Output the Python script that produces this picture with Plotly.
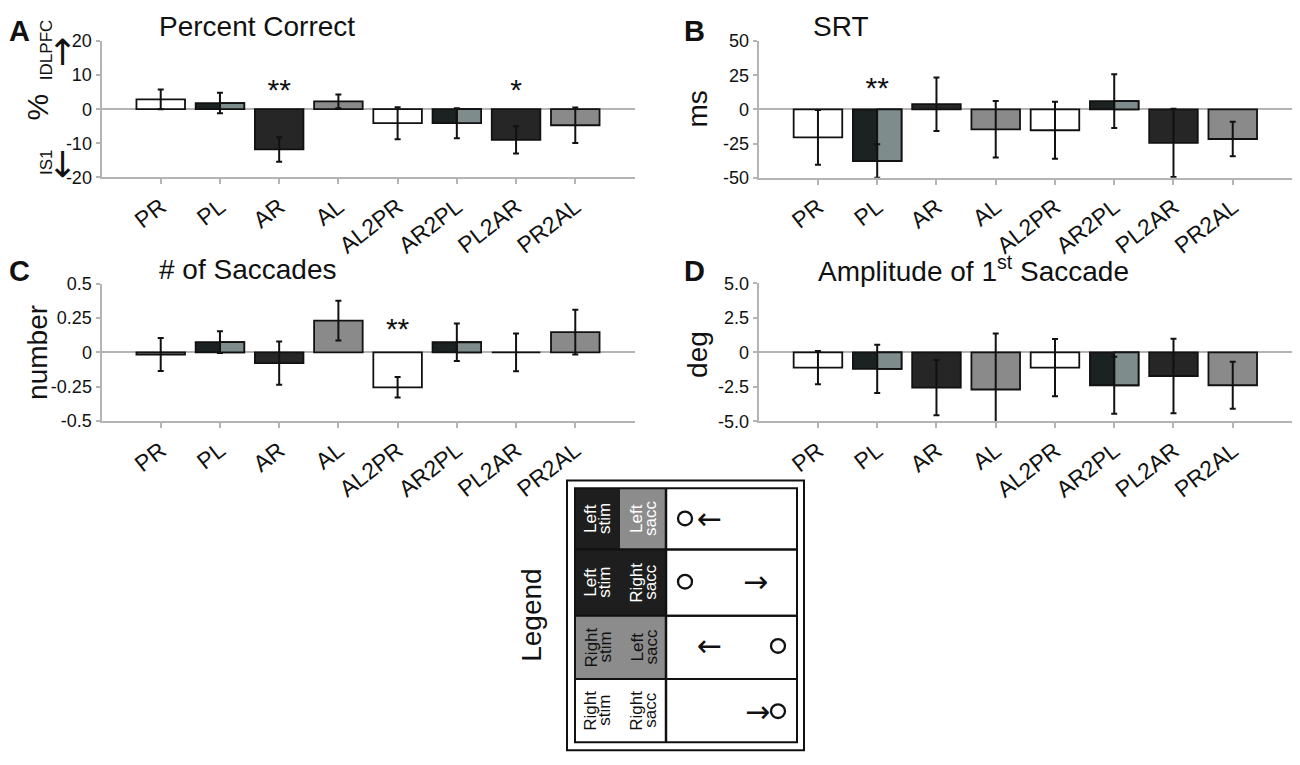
import plotly.graph_objects as go

# The page body adds an 8 px margin, so the figure is sized and positioned to fill the window.
OFF = 8
W, H = 1300 - OFF, 765 - OFF
FONT = "Liberation Sans, Arial, sans-serif"
GLYPH_FONT = "DejaVu Sans, sans-serif"

# ---------------- data ----------------
categories = ["PR", "PL", "AR", "AL", "AL2PR", "AR2PL", "PL2AR", "PR2AL"]
fill_colors = ["#ffffff", "#1c2121", "#262626", "#8a8a8a",
               "#ffffff", "#1c2121", "#262626", "#8a8a8a"]
split_categories = ["PL", "AR2PL"]
split_color = "#7e8c8c"

pc_vals = [2.9, 1.8, -11.8, 2.3, -4.1, -4.1, -9.0, -4.7]
pc_err = [2.9, 3.0, 3.6, 2.0, 4.7, 4.4, 4.0, 5.2]
pc_sig = ["", "", "**", "", "", "", "*", ""]

srt_vals = [-20.5, -37.8, 3.8, -14.6, -15.3, 6.0, -24.6, -21.7]
srt_err = [20.0, 12.3, 19.6, 20.7, 20.9, 19.7, 25.0, 12.7]
srt_sig = ["", "**", "", "", "", "", "", ""]

nsac_vals = [-0.015, 0.075, -0.078, 0.231, -0.254, 0.074, 0.0, 0.148]
nsac_err = [0.12, 0.08, 0.158, 0.145, 0.075, 0.136, 0.137, 0.163]
nsac_sig = ["", "", "", "", "**", "", "", ""]

amp_vals = [-1.1, -1.2, -2.55, -2.69, -1.1, -2.38, -1.71, -2.38]
amp_err = [1.2, 1.75, 2.0, 4.07, 2.07, 2.07, 2.7, 1.7]
amp_sig = ["", "", "", "", "", "", "", ""]

pc_ticks = [20, 10, 0, -10, -20]
pc_ticktext = ["20", "10", "0", "-10", "-20"]
srt_ticks = [50, 25, 0, -25, -50]
srt_ticktext = ["50", "25", "0", "-25", "-50"]
nsac_ticks = [0.5, 0.25, 0, -0.25, -0.5]
nsac_ticktext = ["0.5", "0.25", "0", "-0.25", "-0.5"]
amp_ticks = [5, 2.5, 0, -2.5, -5]
amp_ticktext = ["5.0", "2.5", "0", "-2.5", "-5.0"]

legend_rows = [
    ("Left", "stim", "Left", "sacc"),
    ("Left", "stim", "Right", "sacc"),
    ("Right", "stim", "Left", "sacc"),
    ("Right", "stim", "Right", "sacc"),
]

# ---------------- layout helpers (screen pixels -> paper) ----------------
def px(x):
    return (x - OFF) / W

def py(y):
    return 1 - (y - OFF) / H

panels = [
    dict(ax="", vals=pc_vals, err=pc_err, sig=pc_sig, sig_level=4.8, rng=[-20, 20],
         ticks=pc_ticks, ticktext=pc_ticktext, xdom=(101.5, 634.5), ydom=(31.7, 171.7)),
    dict(ax="2", vals=srt_vals, err=srt_err, sig=srt_sig, sig_level=13.5, rng=[-50, 50],
         ticks=srt_ticks, ticktext=srt_ticktext, xdom=(758.7, 1292), ydom=(31.7, 172)),
    dict(ax="3", vals=nsac_vals, err=nsac_err, sig=nsac_sig, sig_level=0.15, rng=[-0.5, 0.5],
         ticks=nsac_ticks, ticktext=nsac_ticktext, xdom=(101.5, 634.5), ydom=(281, 422)),
    dict(ax="4", vals=amp_vals, err=amp_err, sig=amp_sig, sig_level=1.5, rng=[-5, 5],
         ticks=amp_ticks, ticktext=amp_ticktext, xdom=(758.7, 1292), ydom=(280.7, 422.3)),
]

fig = go.Figure()
AXC = "#b4b4b4"

for p in panels:
    xa, ya = "x" + p["ax"], "y" + p["ax"]
    fig.add_trace(go.Bar(
        x=categories, y=p["vals"], width=0.82, xaxis=xa, yaxis=ya,
        marker=dict(color=fill_colors, line=dict(color="#111111", width=1.8)),
        hoverinfo="skip"))
    split_y = [p["vals"][categories.index(c)] for c in split_categories]
    fig.add_trace(go.Bar(
        x=split_categories, y=split_y, width=0.41, offset=0, xaxis=xa, yaxis=ya,
        marker=dict(color=split_color, line=dict(color="#111111", width=1.8)),
        hoverinfo="skip"))
    fig.add_trace(go.Scatter(
        x=categories, y=p["vals"], mode="markers", xaxis=xa, yaxis=ya,
        marker=dict(size=1, color="rgba(0,0,0,0)"),
        error_y=dict(type="data", array=p["err"], color="#111111", thickness=2, width=3),
        cliponaxis=False, hoverinfo="skip"))
    sig_x = [c for c, s in zip(categories, p["sig"]) if s]
    sig_t = [s for s in p["sig"] if s]
    if sig_x:
        fig.add_trace(go.Scatter(
            x=sig_x, y=[p["sig_level"]] * len(sig_x), text=sig_t, mode="text",
            xaxis=xa, yaxis=ya, textfont=dict(size=30, color="#111111", family=FONT),
            textposition="middle center", cliponaxis=False, hoverinfo="skip"))

    fig.layout["xaxis" + p["ax"]] = dict(
        domain=[px(p["xdom"][0]), px(p["xdom"][1])], anchor=ya,
        type="category", categoryorder="array", categoryarray=categories,
        range=[-1, 8], showgrid=False, zeroline=False,
        showline=True, linecolor=AXC, linewidth=2,
        ticks="outside", ticklen=5, tickwidth=1.5, tickcolor=AXC,
        tickangle=-38, tickfont=dict(size=23, color="#111111", family=FONT))
    fig.layout["yaxis" + p["ax"]] = dict(
        domain=[py(p["ydom"][1]), py(p["ydom"][0])], anchor=xa,
        range=p["rng"], showgrid=False,
        zeroline=True, zerolinecolor=AXC, zerolinewidth=1.5,
        showline=True, linecolor=AXC, linewidth=2,
        ticks="outside", ticklen=4, tickwidth=1.5, tickcolor=AXC,
        tickvals=p["ticks"], ticktext=p["ticktext"],
        tickfont=dict(size=18, color="#111111", family=FONT))

annotations = []

def text(x, y, s, size, angle=0, color="#111111", xanchor="center", bold=False, family=FONT):
    if bold:
        s = "<b>" + s + "</b>"
    annotations.append(dict(
        x=px(x), y=py(y), xref="paper", yref="paper", text=s, showarrow=False,
        textangle=angle, xanchor=xanchor, yanchor="middle",
        font=dict(size=size, color=color, family=family)))

# panel letters & titles
text(19, 21, "A", 29, bold=True)
text(694, 21, "B", 29, bold=True)
text(19, 268, "C", 29, bold=True)
text(694, 268, "D", 29, bold=True)
text(157, 17, "Percent Correct", 28, xanchor="left")
text(811, 17, "SRT", 28, xanchor="left")
text(157, 266, "# of Saccades", 28, xanchor="left")
text(816, 266, "Amplitude of 1<sup>st</sup> Saccade", 28, xanchor="left")

# axis titles
text(38, 100, "%", 30, angle=-90)
text(698, 101, "ms", 28, angle=-90)
text(38, 352, "number", 28, angle=-90)
text(698, 353, "deg", 28, angle=-90)

# direction indicators in panel A
text(46, 41, "IDLPFC", 17, angle=-90)
text(61, 43, "→", 36, angle=-90, family=GLYPH_FONT)
text(46, 156, "IS1", 17, angle=-90)
text(61, 158, "←", 36, angle=-90, family=GLYPH_FONT)

# legend box
shapes = []
def rect(x0, y0, x1, y1, fill="rgba(0,0,0,0)", lw=2):
    shapes.append(dict(type="rect", xref="paper", yref="paper",
                       x0=px(x0), x1=px(x1), y0=py(y1), y1=py(y0),
                       fillcolor=fill, line=dict(color="#111111", width=lw), layer="above"))

def circle(cx, cy, r=7):
    shapes.append(dict(type="circle", xref="paper", yref="paper",
                       x0=px(cx - r), x1=px(cx + r), y0=py(cy + r), y1=py(cy - r),
                       line=dict(color="#111111", width=2.3), layer="above"))

DARK, GREY = "#1e1e1e", "#8c8c8c"
row_edges = [491, 554, 622, 687, 752]
stim_fill = [DARK, DARK, GREY, "#ffffff"]
sacc_fill = [GREY, DARK, GREY, "#ffffff"]
txt_col_stim = ["#ffffff", "#ffffff", "#111111", "#111111"]
txt_col_sacc = ["#ffffff", "#ffffff", "#111111", "#111111"]

rect(567, 483, 804, 760, lw=2)
for i in range(4):
    y0, y1 = row_edges[i], row_edges[i + 1]
    shapes.append(dict(type="rect", xref="paper", yref="paper", x0=px(575), x1=px(620),
                       y0=py(y1), y1=py(y0), fillcolor=stim_fill[i], line=dict(width=0)))
    shapes.append(dict(type="rect", xref="paper", yref="paper", x0=px(620), x1=px(666),
                       y0=py(y1), y1=py(y0), fillcolor=sacc_fill[i], line=dict(width=0)))
    rect(575, y0, 797, y1, lw=2)
    cy = (y0 + y1) / 2
    a, b, c, d = legend_rows[i]
    text(591, cy, a, 17, angle=-90, color=txt_col_stim[i])
    text(605, cy, b, 17, angle=-90, color=txt_col_stim[i])
    text(637, cy, c, 17, angle=-90, color=txt_col_sacc[i])
    text(651, cy, d, 17, angle=-90, color=txt_col_sacc[i])
shapes.append(dict(type="line", xref="paper", yref="paper", x0=px(666), x1=px(666),
                   y0=py(752), y1=py(491), line=dict(color="#111111", width=2.5)))

circle(685, 522)
text(710, 522, "←", 30, family=GLYPH_FONT)
circle(685, 587)
text(755, 587, "→", 30, family=GLYPH_FONT)
circle(778, 653)
text(709, 653, "←", 30, family=GLYPH_FONT)
circle(778, 720)
text(757, 720, "→", 30, family=GLYPH_FONT)

text(532, 622, "Legend", 28, angle=-90)

fig.update_layout(
    width=W, height=H, autosize=False,
    margin=dict(l=0, r=0, t=0, b=0),
    paper_bgcolor="white", plot_bgcolor="white",
    barmode="overlay", showlegend=False,
    annotations=annotations, shapes=shapes,
    font=dict(family=FONT, color="#111111"))

fig.write_html("out.html")
